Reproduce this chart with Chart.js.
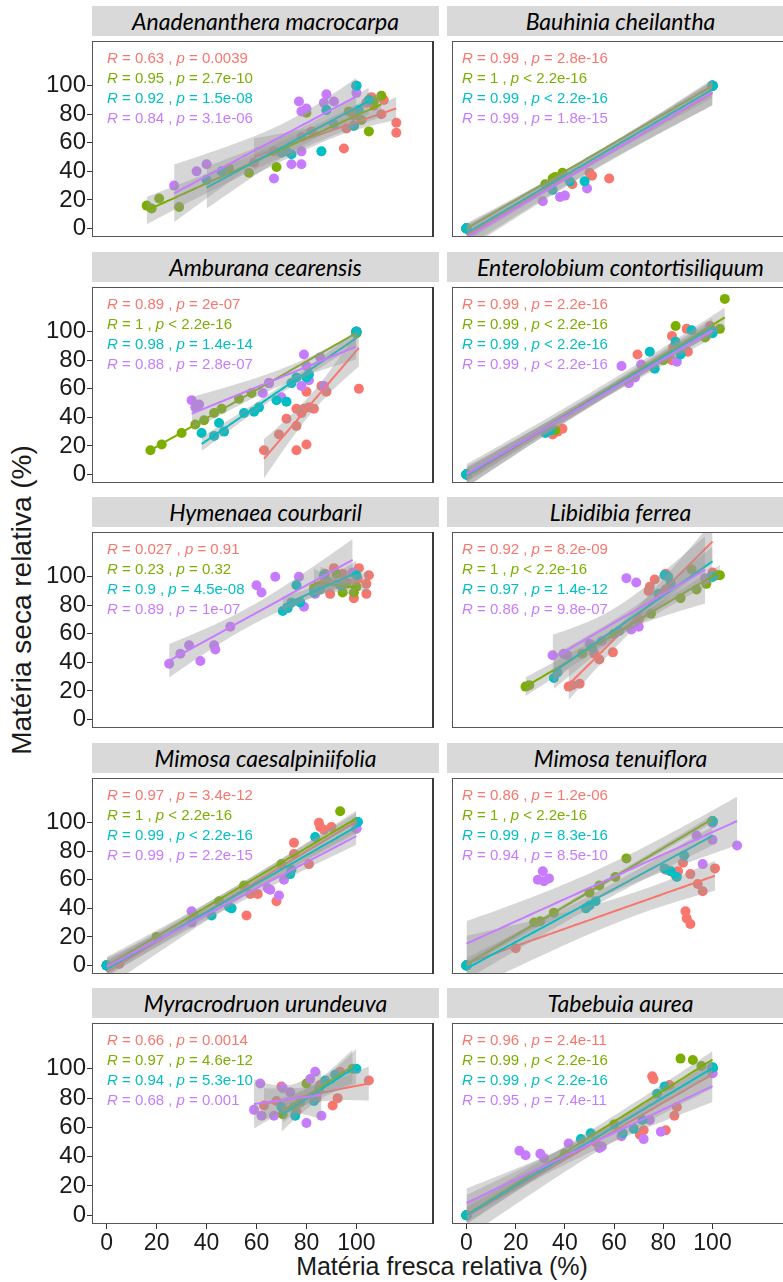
<!DOCTYPE html>
<html>
<head>
<meta charset="utf-8">
<script src="https://cdn.jsdelivr.net/npm/chart.js@4.4.1/dist/chart.umd.min.js"></script>
<style>
  body { margin: 0; background: #fff; width: 783px; height: 1282px; overflow: hidden; position: relative;
         font-family: 'Liberation Sans', Arial, sans-serif; }
  canvas { position: absolute; }
  .strip { position: absolute; height: 30px; background: #d9d9d9; color: #000; text-align: center;
           font: italic 23px Lato, 'Open Sans', sans-serif; line-height: 30px; white-space: nowrap; overflow: hidden; }
  .stats { position: absolute; font-size: 15px; line-height: 20px; white-space: nowrap; }
  .title { position: absolute; font-family: 'Liberation Sans', Arial, sans-serif; color: #1a1a1a; white-space: nowrap; }
</style>
</head>
<body>
<div class="title" id="ytitle" style="font-size:28px">Matéria seca relativa (%)</div>
<div class="title" id="xtitle" style="font-size:25px">Matéria fresca relativa (%)</div>
<script>
const species = ['Anadenanthera macrocarpa', 'Bauhinia cheilantha', 'Amburana cearensis',
  'Enterolobium contortisiliquum', 'Hymenaea courbaril', 'Libidibia ferrea',
  'Mimosa caesalpiniifolia', 'Mimosa tenuiflora', 'Myracrodruon urundeuva', 'Tabebuia aurea'];
const groupColors = ['#F8766D', '#7CAE00', '#00BFC4', '#C77CFF'];
// order the point layers are painted in (last one ends up on top)
const pointOrder = [0, 1, 3, 2];
const xTicks = [0, 20, 40, 60, 80, 100];
const yTicks = [0, 20, 40, 60, 80, 100];

// [fresh %, dry %] per group, one array per species and group (replicates repeat)
const ana1 = [[59,46],[67,54],[78,64],[82,68],[95,56],[96,70],[99,72],[99,79],[104,88],[106,92],[107,86],[110,80],[111,90],[116,67],[116,74]];
const ana2 = [[16,16],[18,14],[21,21],[29,15],[49,42],[57,39],[68,43],[80,81],[97,82],[102,76],[105,68],[107,89],[110,93]];
const ana3 = [[40,34],[46,40],[70,53],[72,54],[74,52],[86,54],[91,73],[88,83],[99,72],[101,83],[100,100],[100,100],[105,90]];
const ana4 = [[27,30],[36,40],[40,45],[67,35],[74,45],[78,45],[78,54],[77,89],[78,82],[80,84],[87,88],[88,94],[91,89],[88,83],[100,95],[100,100]];

const bau1 = [[0,0],[0,0],[0,0],[0,0],[43,31],[50,39],[51,37],[58,35],[100,100],[100,100],[100,100],[100,100]];
const bau2 = [[0,0],[0,0],[0,0],[0,0],[32,31],[35,35],[36,36],[39,39],[100,100],[100,100],[100,100],[100,100]];
const bau3 = [[0,0],[0,0],[0,0],[0,0],[35,27],[42,33],[48,33],[100,100],[100,100],[100,100],[100,100]];
const bau4 = [[0,0],[0,0],[0,0],[0,0],[31,19],[38,22],[40,23],[49,28],[100,100],[100,100],[100,100],[100,100]];

const amb1 = [[63,17],[69,28],[72,39],[76,34],[76,46],[78,43],[79,46],[81,47],[83,46],[76,17],[80,21],[80,58],[86,62],[88,58],[101,60],[100,100],[100,100],[100,100]];
const amb2 = [[17.5,17],[22,21],[30,29],[35.5,35],[39,38],[43,43],[46,46],[53,53],[58,57],[65,64],[100,99],[100,99],[100,99]];
const amb3 = [[38,29],[43,27],[45,36],[47,30],[55,43],[59,44],[61,47],[68,52],[72,51],[74,64],[76,68],[80,68],[81,70],[100,100],[100,100],[100,100]];
const amb4 = [[34,52],[35.5,47],[37,49],[62.5,57],[65,64],[70,54],[78,62],[79,84],[81,66],[85.5,82],[80,76],[87,62],[100,100],[100,100],[100,100]];

const ent1 = [[0,0],[0,0],[0,0],[0,0],[35,28],[37,30],[39,32],[69.5,84],[83.5,97],[84,89],[83.5,80],[89.5,102],[90,86],[99,104],[100,100],[100,100]];
const ent2 = [[0,0],[0,0],[0,0],[0,0],[36,31],[80,80],[85,104],[97,96],[103,102],[105,123],[100,100],[100,100]];
const ent3 = [[0,0],[0,0],[0,0],[0,0],[32,29],[34,31],[74.5,86],[76.5,74],[85,93],[87,84],[91.5,101],[100,99],[100,100]];
const ent4 = [[0,0],[0,0],[0,0],[0,0],[33,30],[63,76],[66,64],[68.5,68],[71,77],[85.5,79],[99.5,100],[100,100]];

const hym1 = [[91,106],[101,106],[105,101],[104,95],[104,88],[99,85],[89.5,88],[87.5,102],[85.5,94],[94.5,102],[100.5,99],[96,96]];
const hym2 = [[94.5,89],[99,89],[83,92],[92,102],[88,97],[100,93],[96,95]];
const hym3 = [[76,94],[70.5,76],[72.5,78],[74,82],[77.5,82],[87,101],[93.5,94],[100,101],[85.5,91],[83,89]];
const hym4 = [[25,39],[29.5,46],[33,52],[37.5,41],[43,52],[43.5,49],[49.5,65],[60,94],[62,89],[67.5,100],[77,100],[79,79],[83.5,88],[98.5,103]];

const lib1 = [[41.5,23],[43,24],[46,25],[54,42],[59.5,47],[52,46],[70,70],[74,90],[74.5,93],[76.5,98],[81,102],[81,91],[100,103]];
const lib2 = [[24,23],[25.5,24],[47,46],[60,60],[75,74],[87,85],[91.5,105],[93.5,91],[97.5,95],[102,101],[103,101]];
const lib3 = [[35.5,29],[37,33],[51,50],[62,62],[78,88],[80.5,101],[82,100],[83,95],[100,100],[100,100]];
const lib4 = [[35,45],[39.5,46],[41,45],[50,53],[55,55],[67,63],[70,65],[65,99],[69,96],[97,99]];

const mca1 = [[0,0],[0,0],[0,0],[5,1],[56,35],[57.5,50],[60.5,50],[68,45],[75,86],[75,78],[81,71],[85,100],[85.5,97],[87,95],[90,97],[100,100],[100,100],[100,100]];
const mca2 = [[0,0],[0,0],[0,0],[0,0],[20,20],[35,35],[45,45],[55,56],[70,71],[93.5,108],[100,100],[100,100],[100,100]];
const mca3 = [[0,0],[0,0],[0,0],[0,0],[42,35],[49,41],[50,40],[73.5,64],[74,67],[83.5,90],[100.5,100.5],[100.5,100.5],[100.5,100.5]];
const mca4 = [[0,0],[0,0],[0,0],[0,0],[34,38],[34,30],[64.5,54],[65.5,53],[69,49],[71,60],[100,96],[100,96],[100,96]];

const mte1 = [[0,0],[0,0],[20,12],[81,67],[83,66],[85,63],[86,66],[88,72],[89,38],[89.5,33],[91,29],[91,64],[94,57],[96,52],[101,68]];
const mte2 = [[0,0],[0,0],[0,0],[0,0],[27.5,30],[30,31],[35.5,37],[50,51],[54,56],[60.5,62],[65,75],[100,101],[100,101],[100,101]];
const mte3 = [[0,0],[0,0],[0,0],[0,0],[48.5,40],[50,42],[52.5,45],[80.5,68],[83,66],[85.5,62],[88.5,77],[100,101],[100,101],[100,101]];
const mte4 = [[0,0],[0,0],[0,0],[0,0],[29,60],[31,66],[31.5,59],[33.5,61],[93.5,91],[96,71],[100,88],[100,100],[100,100],[110,84]];

const myr1 = [[63,75],[70,88],[68,78],[76,71],[84,80],[85.5,89],[90.5,75],[92.5,80],[93.5,98],[105,92]];
const myr2 = [[70.5,69],[75,74],[77.5,77],[80,90],[85,86],[98.5,100]];
const myr3 = [[70,74],[75.5,68],[83,78],[87.5,92],[91.5,96],[100,100]];
const myr4 = [[61.5,90],[59,72],[62,68],[67,68],[70.5,87],[73.5,84],[80,63],[86,68],[81.5,93],[83.5,98]];

const tab1 = [[0,0],[0,0],[0,0],[52.5,50],[70.5,55],[72,58],[75.5,95],[76,93],[81,58],[82.5,89],[84.5,68],[85.5,74],[100,100],[100,100],[100,100]];
const tab2 = [[0,0],[0,0],[0,0],[0,0],[40,42],[60,62],[87,107],[92,106],[95.5,102],[100,100],[100,100],[100,100]];
const tab3 = [[0,0],[0,0],[0,0],[0,0],[46.5,52],[50.5,56],[63.5,56],[68,59],[71.5,65],[77.5,83],[80.5,88],[100,101],[100,101],[100,101]];
const tab4 = [[0,0],[0,0],[0,0],[21.5,44],[24,41],[30,42],[31.5,39],[41.5,49],[54,46],[55,47],[63,54],[72,52],[74.5,65],[79,57],[100,97],[100,97]];

// correlation labels (R, p) per species, one entry per group
const anaR = ['0.63', '0.95', '0.92', '0.84'];
const anaP = ['= 0.0039', '= 2.7e-10', '= 1.5e-08', '= 3.1e-06'];
const bauR = ['0.99', '1', '0.99', '0.99'];
const bauP = ['= 2.8e-16', '< 2.2e-16', '< 2.2e-16', '= 1.8e-15'];
const ambR = ['0.89', '1', '0.98', '0.88'];
const ambP = ['= 2e-07', '< 2.2e-16', '= 1.4e-14', '= 2.8e-07'];
const entR = ['0.99', '0.99', '0.99', '0.99'];
const entP = ['= 2.2e-16', '< 2.2e-16', '< 2.2e-16', '< 2.2e-16'];
const hymR = ['0.027', '0.23', '0.9', '0.89'];
const hymP = ['= 0.91', '= 0.32', '= 4.5e-08', '= 1e-07'];
const libR = ['0.92', '1', '0.97', '0.86'];
const libP = ['= 8.2e-09', '< 2.2e-16', '= 1.4e-12', '= 9.8e-07'];
const mcaR = ['0.97', '1', '0.99', '0.99'];
const mcaP = ['= 3.4e-12', '< 2.2e-16', '< 2.2e-16', '= 2.2e-15'];
const mteR = ['0.86', '1', '0.99', '0.94'];
const mteP = ['= 1.2e-06', '< 2.2e-16', '= 8.3e-16', '= 8.5e-10'];
const myrR = ['0.66', '0.97', '0.94', '0.68'];
const myrP = ['= 0.0014', '= 4.6e-12', '= 5.3e-10', '= 0.001'];
const tabR = ['0.96', '0.99', '0.99', '0.95'];
const tabP = ['= 2.4e-11', '< 2.2e-16', '< 2.2e-16', '= 7.4e-11'];

const panelGroups = [[ana1, ana2, ana3, ana4], [bau1, bau2, bau3, bau4], [amb1, amb2, amb3, amb4],
  [ent1, ent2, ent3, ent4], [hym1, hym2, hym3, hym4], [lib1, lib2, lib3, lib4],
  [mca1, mca2, mca3, mca4], [mte1, mte2, mte3, mte4], [myr1, myr2, myr3, myr4], [tab1, tab2, tab3, tab4]];
const panelR = [anaR, bauR, ambR, entR, hymR, libR, mcaR, mteR, myrR, tabR];
const panelP = [anaP, bauP, ambP, entP, hymP, libP, mcaP, mteP, myrP, tabP];

// panel geometry
const PLOT_W = 347, PLOT_H = 206, STRIP_H = 30;
const X_MIN = -5.9, X_MAX = X_MIN + PLOT_W / 2.533;
const Y_MIN = -6, Y_MAX = Y_MIN + PLOT_H / 1.5;
const COL_LEFT = [92, 447];
const Y_AXIS_W = 90, X_AXIS_H = 44;
const rowTop = r => Math.round(36 + r * 245.5);

const tickFontY = { family: "'Liberation Sans', Arial, sans-serif", size: 24 };
const tickFontX = { family: "'Liberation Sans', Arial, sans-serif", size: 23 };

// two-sided 95% t quantile (Cornish-Fisher expansion)
function tQuantile(df) {
  const z = 1.959964, z3 = z * z * z, z5 = z3 * z * z, z7 = z5 * z * z;
  return z + (z3 + z) / (4 * df) + (5 * z5 + 16 * z3 + 3 * z) / (96 * df * df)
    + (3 * z7 + 19 * z5 + 17 * z3 - 15 * z) / (384 * df * df * df);
}

// least squares line with 95% confidence band, like geom_smooth(method = "lm")
function lmFit(pts) {
  const n = pts.length;
  const mx = pts.reduce((s, p) => s + p[0], 0) / n;
  const my = pts.reduce((s, p) => s + p[1], 0) / n;
  let sxx = 0, sxy = 0;
  pts.forEach(([x, y]) => { sxx += (x - mx) ** 2; sxy += (x - mx) * (y - my); });
  const b = sxy / sxx, a = my - b * mx;
  let sse = 0;
  pts.forEach(([x, y]) => { sse += (y - a - b * x) ** 2; });
  const s = Math.sqrt(sse / (n - 2)), t = tQuantile(n - 2);
  const xs = pts.map(p => p[0]);
  const lo = Math.min(...xs), hi = Math.max(...xs);
  const fit = [], upper = [], lower = [];
  for (let i = 0; i <= 80; i++) {
    const x = lo + (hi - lo) * i / 80;
    const yhat = a + b * x;
    const se = s * Math.sqrt(1 / n + (x - mx) ** 2 / sxx);
    fit.push({ x, y: yhat });
    upper.push({ x, y: yhat + t * se });
    lower.push({ x, y: yhat - t * se });
  }
  return { fit, upper, lower };
}

function buildDatasets(groups) {
  const smooth = [], points = [];
  groups.forEach((pts, g) => {
    const m = lmFit(pts);
    smooth.unshift(
      { data: m.fit, borderColor: groupColors[g], borderWidth: 2, pointRadius: 0, fill: false },
      { data: m.upper, borderColor: 'rgba(0,0,0,0)', borderWidth: 1, pointRadius: 0,
        backgroundColor: 'rgba(153,153,153,0.4)', fill: '+1' },
      { data: m.lower, borderColor: 'rgba(0,0,0,0)', borderWidth: 1, pointRadius: 0, fill: false }
    );
  });
  pointOrder.forEach(g => {
    points.unshift({ data: groups[g].map(([x, y]) => ({ x, y })), showLine: false, pointRadius: 5,
      backgroundColor: groupColors[g], borderWidth: 0, pointBorderWidth: 0 });
  });
  return smooth.concat(points);
}

const panelBox = {
  id: 'panelBox',
  afterDraw(chart, args, opts) {
    const { ctx, chartArea: a } = chart;
    ctx.save();
    ctx.strokeStyle = '#555';
    ctx.lineWidth = 1;
    ctx.strokeRect(a.left + 0.5, a.top + 0.5, a.width - 1, a.height - 1);
    if (opts.heavyRight) {
      // the left column closes with a heavier rule on its right side
      ctx.strokeStyle = '#3a3a3a';
      ctx.lineWidth = 2;
      ctx.beginPath();
      ctx.moveTo(a.right - 1, a.top);
      ctx.lineTo(a.right - 1, a.bottom);
      ctx.stroke();
    }
    ctx.restore();
  }
};

species.forEach((name, i) => {
  const row = Math.floor(i / 2), col = i % 2;
  const top = rowTop(row), left = COL_LEFT[col];
  const showY = col === 0, showX = row === 4;

  const strip = document.createElement('div');
  strip.className = 'strip';
  strip.textContent = name;
  Object.assign(strip.style, { left: left + 'px', top: (top - STRIP_H) + 'px', width: PLOT_W + 'px' });
  document.body.appendChild(strip);

  const canvas = document.createElement('canvas');
  const cw = PLOT_W + (showY ? Y_AXIS_W : 0), ch = PLOT_H + (showX ? X_AXIS_H : 0);
  canvas.width = cw; canvas.height = ch;
  canvas.style.left = (left - (showY ? Y_AXIS_W : 0)) + 'px';
  canvas.style.top = top + 'px';
  document.body.appendChild(canvas);

  new Chart(canvas, {
    type: 'line',
    data: { datasets: buildDatasets(panelGroups[i]) },
    plugins: [panelBox],
    options: {
      responsive: false,
      animation: false,
      events: [],
      layout: { padding: 0 },
      elements: { line: { tension: 0 } },
      plugins: { legend: { display: false }, tooltip: { enabled: false }, panelBox: { heavyRight: col === 0 } },
      scales: {
        x: {
          type: 'linear', min: X_MIN, max: X_MAX, display: showX,
          afterBuildTicks: s => { s.ticks = xTicks.map(v => ({ value: v })); },
          afterFit: s => {
            s.paddingLeft = 0; s.paddingRight = 0;
            if (showX) s.height = X_AXIS_H;
          },
          grid: { drawOnChartArea: false, tickLength: 5, color: '#333' },
          border: { display: false },
          ticks: { font: tickFontX, color: '#1a1a1a', padding: 1, maxRotation: 0, autoSkip: false }
        },
        y: {
          type: 'linear', min: Y_MIN, max: Y_MAX, display: showY,
          afterBuildTicks: s => { s.ticks = yTicks.map(v => ({ value: v })); },
          afterFit: s => {
            s.paddingTop = 0; s.paddingBottom = 0;
            if (showY) s.width = Y_AXIS_W;
          },
          grid: { drawOnChartArea: false, tickLength: 5, color: '#333' },
          border: { display: false },
          ticks: { font: tickFontY, color: '#1a1a1a', padding: 1, autoSkip: false }
        }
      }
    }
  });

  // R / p annotations at the upper left of the panel
  const zeroX = left + (0 - X_MIN) * PLOT_W / (X_MAX - X_MIN);
  const stats = document.createElement('div');
  stats.className = 'stats';
  Object.assign(stats.style, { left: zeroX + 'px', top: (top + 12) + 'px' });
  stats.innerHTML = panelR[i].map((r, g) =>
    `<div style="color:${groupColors[g]}"><i>R</i> = ${r} , <i>p</i> ${panelP[i][g].replace('<', '&lt;')}</div>`).join('');
  document.body.appendChild(stats);
});

const yt = document.getElementById('ytitle');
yt.style.left = '22px';
yt.style.top = '600px';
yt.style.transform = 'translate(-50%, -50%) rotate(-90deg)';
const xt = document.getElementById('xtitle');
xt.style.left = '442px';
xt.style.top = '1266px';
xt.style.transform = 'translate(-50%, -50%)';
</script>
</body>
</html>
